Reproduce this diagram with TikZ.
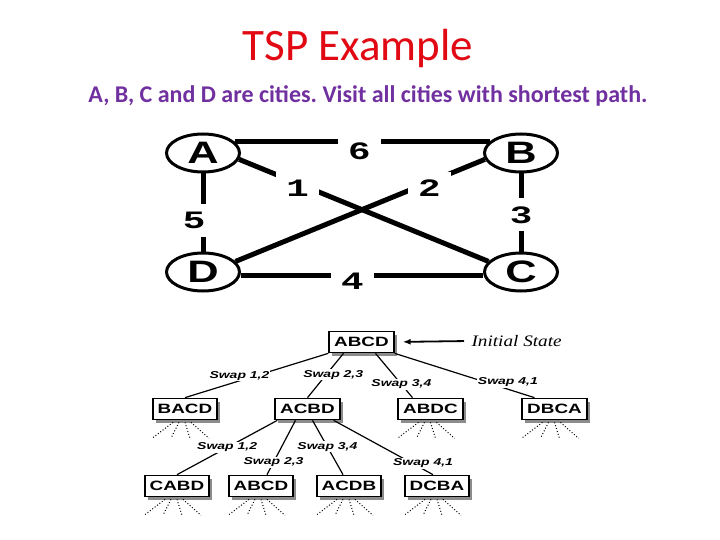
\documentclass[tikz,border=0pt]{standalone}
\usepackage{fontspec}
\setmainfont{Carlito}
\newfontfamily\weightfont[FakeStretch=1.5]{Liberation Mono}
\newfontfamily\permfont[FakeStretch=1.4]{Liberation Sans}
\newfontfamily\notefont[FakeStretch=1.2]{Liberation Serif}
\usetikzlibrary{arrows.meta,shapes.geometric,shadows}
\definecolor{titlered}{RGB}{225,10,20}
\definecolor{taskpurple}{RGB}{112,48,160}
\frenchspacing

\begin{document}
\begin{tikzpicture}[
    x=1pt, y=-1pt,
    city/.style={draw, ellipse, line width=3pt, minimum width=73pt, minimum height=38pt,
                 inner sep=0pt, font=\permfont\bfseries\fontsize{31pt}{31pt}\selectfont},
    road/.style={line width=5pt},
    weight/.style={fill=white, inner xsep=10pt, inner ysep=8pt,
                   font=\weightfont\bfseries\fontsize{25pt}{25pt}\selectfont},
    perm/.style={draw, line width=1.7pt, fill=white, inner xsep=5pt, minimum height=21pt,
                 font=\permfont\bfseries\fontsize{13.5pt}{13.5pt}\selectfont,
                 drop shadow={shadow xshift=3pt, shadow yshift=-3pt, fill=black!45, opacity=1}},
    link/.style={line width=1.2pt},
    swap/.style={fill=white, inner sep=1pt,
                 font=\permfont\bfseries\itshape\fontsize{10pt}{10pt}\selectfont},
    fan/.style={dotted, line width=1pt}
  ]
  \useasboundingbox (0,0) rectangle (720,540);

  \node[font=\fontsize{45pt}{45pt}\selectfont, text=titlered, anchor=base] (title) at (358,61)
    {TSP Example};
  \node[font=\bfseries\fontsize{24pt}{24pt}\selectfont, text=taskpurple, anchor=base] (task) at (368,103)
    {A, B, C and D are cities. Visit all cities with shortest path.};

  \node[city] (A) at (203,153) {A};
  \node[city] (B) at (521,153) {B};
  \node[city] (C) at (521,272) {C};
  \node[city] (D) at (203,272) {D};

  \draw[road] (A.20) -- node[weight, pos=.49, yshift=-10pt] (w6) {6} (B.160);
  \draw[road] (A.-10) -- node[weight, pos=.235, yshift=-5pt] (w1) {1} (C.162);
  \draw[road] (B.190) -- node[weight, pos=.223, yshift=-6pt] (w2) {2} (D.18);
  \draw[road] (A.south) -- node[weight, pos=.6, xshift=-9pt] (w5) {5} (D.north);
  \draw[road] (B.south) -- node[weight, pos=.53] (w3) {3} (C.north);
  \draw[road] (D.-5) -- node[weight, pos=.46, yshift=-6pt] (w4) {4} (C.185);

  \node[perm] (root) at (361.5,342) {ABCD};
  \node[perm] (bacd) at (185,409) {BACD};
  \node[perm] (acbd) at (307.5,409) {ACBD};
  \node[perm] (abdc) at (430.5,409) {ABDC};
  \node[perm] (dbca) at (554.5,409) {DBCA};
  \node[perm] (cabd) at (177,486) {CABD};
  \node[perm] (abcd) at (261,486) {ABCD};
  \node[perm] (acdb) at (349,486) {ACDB};
  \node[perm] (dcba) at (437,486) {DCBA};

  \node[font=\notefont\itshape\fontsize{16pt}{16pt}\selectfont, anchor=west]
    (init) at (468,341) {Initial State};
  \draw[-{Latex[length=8pt,width=6pt]}, line width=1.8pt, shorten >=8pt, shorten <=4pt]
    (init.west) -- (root.east);

  \draw[link] (root.south west) -- node[swap, pos=.62, yshift=5pt] {Swap 1,2} (bacd.north);
  \draw[link] ([xshift=-18pt]root.south) -- node[swap, pos=.48, xshift=7pt] {Swap 2,3} (acbd.north);
  \draw[link] ([xshift=14pt]root.south) -- node[swap, pos=.7] {Swap 3,4} ([xshift=-18pt]abdc.north);
  \draw[link] (root.south east) -- node[swap, pos=.81, yshift=7pt] {Swap 4,1} ([xshift=-20pt]dbca.north);

  \draw[link] ([xshift=3pt]acbd.south west) -- node[swap, pos=.5] {Swap 1,2} (cabd.north);
  \draw[link] ([xshift=-12pt]acbd.south) -- node[swap, pos=.77] {Swap 2,3} ([xshift=6pt]abcd.north);
  \draw[link] ([xshift=5pt]acbd.south) -- node[swap, pos=.49] {Swap 3,4} ([xshift=-6pt]acdb.north);
  \draw[link] ([xshift=-7pt]acbd.south east) -- node[swap, pos=.9, yshift=6pt] {Swap 4,1} ([xshift=-4pt]dcba.north);

  \foreach \n in {bacd,abdc,dbca,cabd,abcd,acdb,dcba}
    \foreach \k in {0,...,3}
      \draw[fan] ([xshift={(6*\k-12)*1pt}, yshift=-2pt]\n.south)
        -- ([xshift={(19*\k-33)*1pt}, yshift=-18pt]\n.south);
\end{tikzpicture}
\end{document}
